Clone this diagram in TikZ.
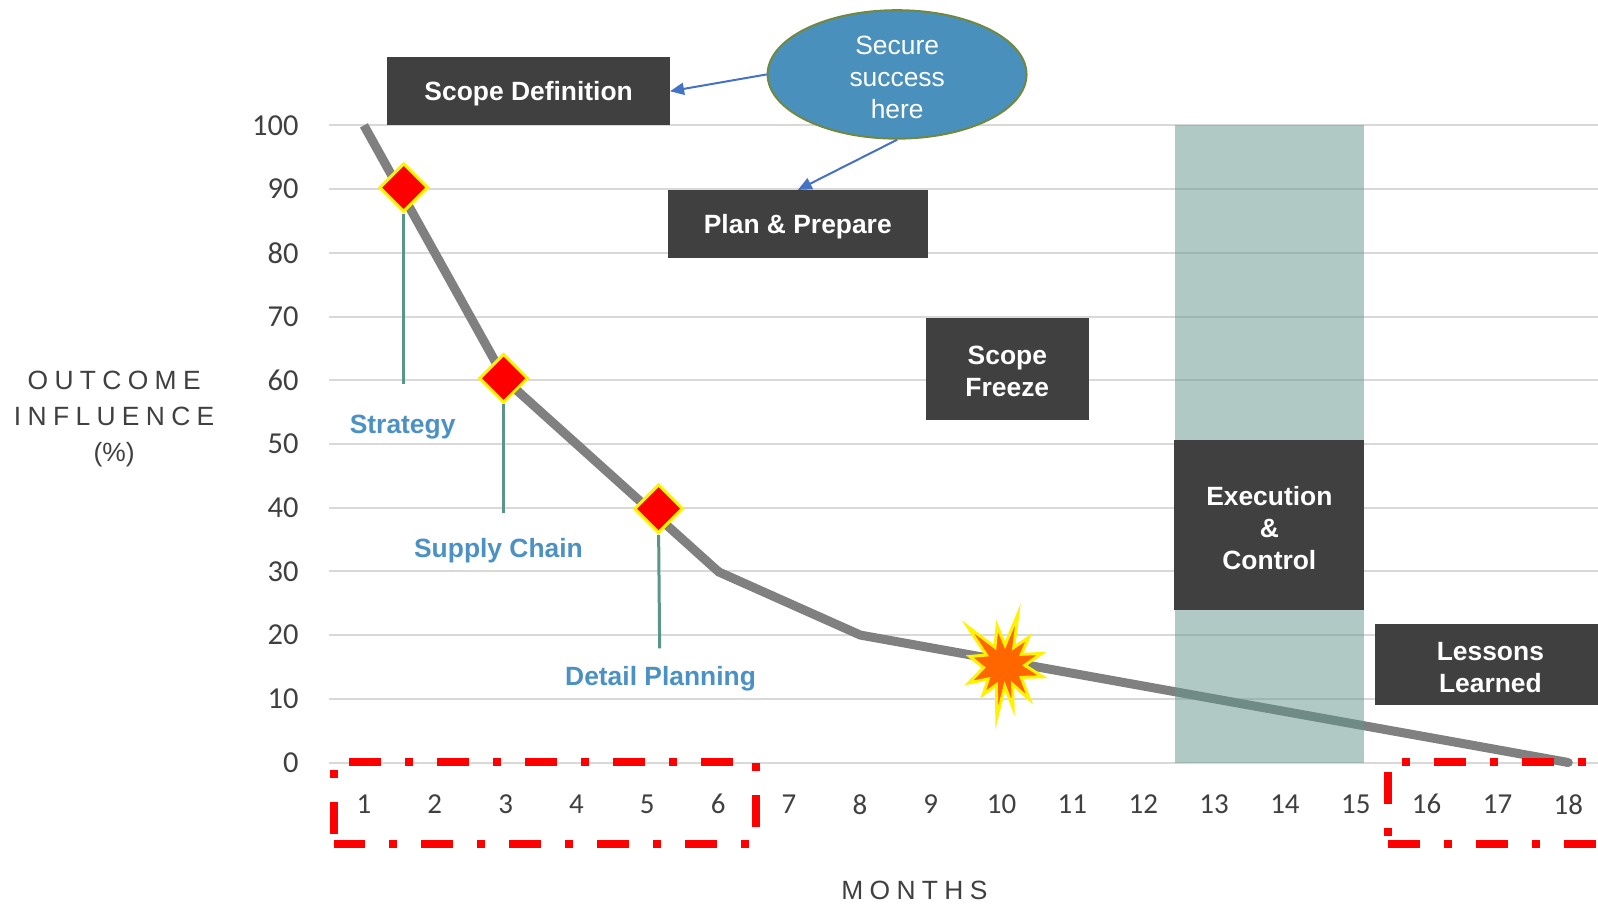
\documentclass[tikz,border=0pt]{standalone}
\usepackage{fontspec}
\setmainfont{Liberation Sans}
\newfontfamily\calfont{Carlito}
\newfontfamily\spacedfont[LetterSpace=24]{Liberation Sans}
\usetikzlibrary{shapes.geometric,arrows.meta}
\definecolor{boxgray}{RGB}{64,64,64}
\definecolor{txtblue}{RGB}{75,145,195}
\definecolor{ellfill}{RGB}{74,144,189}
\definecolor{ellborder}{RGB}{113,137,63}
\definecolor{tealline}{RGB}{90,150,135}
\definecolor{curvegray}{RGB}{128,128,128}
\definecolor{arrblue}{RGB}{68,114,196}
\definecolor{gridgray}{RGB}{217,217,217}
\definecolor{axistext}{RGB}{64,64,64}
\definecolor{bandcol}{RGB}{98,148,138}
\definecolor{burst}{RGB}{255,102,0}
\tikzset{
  darkbox/.style={fill=boxgray, inner sep=0pt},
  boxtext/.style={text=white, font=\bfseries\fontsize{26}{31.5}\selectfont, align=center, inner sep=0pt, yshift=-2.5bp},
  ytick/.style={text=axistext, font=\calfont\fontsize{30}{32}\selectfont, inner sep=0pt},
  xtick/.style={text=axistext, font=\calfont\fontsize{28.5}{30}\selectfont, inner sep=0pt},
  milestone/.style={diamond, aspect=1, minimum width=48bp, minimum height=48bp, inner sep=0pt, fill=red, draw=yellow, line width=3bp},
  stem/.style={draw=tealline, line width=3bp},
  bluelabel/.style={text=txtblue, font=\bfseries\fontsize{26}{30}\selectfont, inner sep=0pt},
  arr/.style={draw=arrblue, line width=2bp, -{Triangle[length=14bp,width=12bp]}},
  reddash/.style={draw=red, line width=8bp},
  patA/.style={dash pattern=on 32bp off 24bp on 8bp off 24bp},
  patB/.style={dash pattern=on 8bp off 24bp on 32bp off 24bp},
  axtitle/.style={text=axistext, font=\spacedfont\fontsize{26}{35}\selectfont, align=center, inner sep=0pt}
}
\begin{document}
\begin{tikzpicture}[x=1bp,y=-1bp,scale=1.0194,every node/.append style={transform shape}]
\useasboundingbox (0,0) rectangle (1567.6,887.8);
\clip (0,0) rectangle (1567.6,887.8);
\fill[white] (0,0) rectangle (1567.6,887.8);
% gridlines and tick labels
\foreach \v in {0,10,...,100} {
  \draw[gridgray, line width=2bp] (323,{748-6.25*\v}) -- (1600,{748-6.25*\v});
  \node[ytick, anchor=east] (y\v) at (293,{748-6.25*\v}) {\v};
}
\foreach \m in {1,...,18} {
  \node[xtick] (m\m) at ({357+69.5*(\m-1)},789) {\m};
}
% curve
\draw[curvegray, line width=9bp, line join=round]
  (357,123) -- (496,373) -- (705,561) -- (844,623) -- (1538.5,748);
\fill[curvegray] (1538.5,748) circle (4.4);
% band
\fill[bandcol, fill opacity=0.5] (1153,123) rectangle (1338,748);
% stems and milestones
\node[milestone] (d1) at (396,184) {};
\node[milestone] (d2) at (494,371) {};
\node[milestone] (d3) at (646,499) {};
\coordinate (s1) at (396,377);
\coordinate (s2) at (494,503);
\coordinate (s3) at (647,636);
\draw[stem] (d1.south) -- (s1);
\draw[stem] (d2.south) -- (s2);
\draw[stem] (d3.south) -- (s3);
\node[bluelabel] (lstrat) at (395,418.5) {Strategy};
\node[bluelabel] (lsupply) at (489,540.5) {Supply Chain};
\node[bluelabel] (ldetail) at (648,665.5) {Detail Planning};
% burst
\begin{scope}[shift={(985,653)}, scale=0.92]
\filldraw[fill=burst, draw=yellow, line width=3bp, line join=miter]
 (-165:38) -- (-149:22) -- (-133:57) -- (-116.5:22) -- (-100:43) -- (-87.5:22) --
 (-75:57) -- (-62:22) -- (-49:40) -- (-33.5:22) -- (-18:42) -- (-1:22) --
 (16:43) -- (34.5:22) -- (53:45) -- (65.5:22) -- (78:46) -- (88:22) --
 (98:56) -- (112:22) -- (126:38) -- (140:22) -- (154:42) -- (174.5:22) -- cycle;
\end{scope}
% boxes
\node[darkbox, minimum width=277bp, minimum height=67bp] (sd) at (518.5,89.5) {};
\node[boxtext] (sdt) at (sd.center) {Scope Definition};
\node[darkbox, minimum width=255bp, minimum height=67bp] (pp) at (782.5,220) {};
\node[boxtext] (ppt) at (pp.center) {Plan \& Prepare};
\node[darkbox, minimum width=160bp, minimum height=100bp] (sf) at (988,362) {};
\node[boxtext] (sft) at (sf.center) {Scope\\Freeze};
\node[darkbox, minimum width=186bp, minimum height=166bp] (ec) at (1245,515) {};
\node[boxtext] (ect) at (ec.center) {Execution\\\&\\Control};
\node[darkbox, minimum width=260bp, minimum height=80bp] (llbox) at (1479,652) {};
\node[boxtext] (ll) at (1462,652.5) {Lessons\\Learned};
% ellipse
\node[ellipse, fill=ellfill, draw=ellborder, line width=2bp, minimum width=254bp, minimum height=126bp,
  inner sep=0pt] (ell) at (880,73) {};
\node[text=white, align=center, inner sep=0pt, font=\fontsize{26}{31.5}\selectfont, yshift=-2.5bp] (ellt) at (ell.center) {Secure\\success\\here};
\draw[arr] (ell.west) -- (sd.east);
\draw[arr] (ell.south) -- (pp.north);
% axis titles
\node[axtitle] (ytitle) at (112,411) {OUTCOME\\INFLUENCE\\{\normalfont\fontsize{26}{35}\selectfont(\%)}};
\node[axtitle] (xtitle) at (897,873) {MONTHS};
% red dash-dot boxes
\coordinate (Ltl) at (327.2,747.5);
\coordinate (Ltr) at (741.6,747.5);
\coordinate (Lbr) at (741.6,828);
\coordinate (Lbl) at (327.2,828);
\draw[reddash, patA, dash phase=72.5bp] (Ltl) -- (Ltr) -- (Lbr) -- (Lbl);
\draw[reddash, patB, dash phase=80bp] (Ltl) -- (Lbl);
\coordinate (Rtl) at (1361.6,747.5);
\coordinate (Rbl) at (1361.6,828);
\coordinate (Rtr) at (1620,747.5);
\coordinate (Rbr) at (1620,828);
\draw[reddash, patB, dash phase=74bp] (Rtl) -- (Rtr);
\draw[reddash, patA, dash phase=78bp] (Rtl) -- (Rbl);
\draw[reddash, patA] (Rbl) -- (Rbr);
\end{tikzpicture}
\end{document}
